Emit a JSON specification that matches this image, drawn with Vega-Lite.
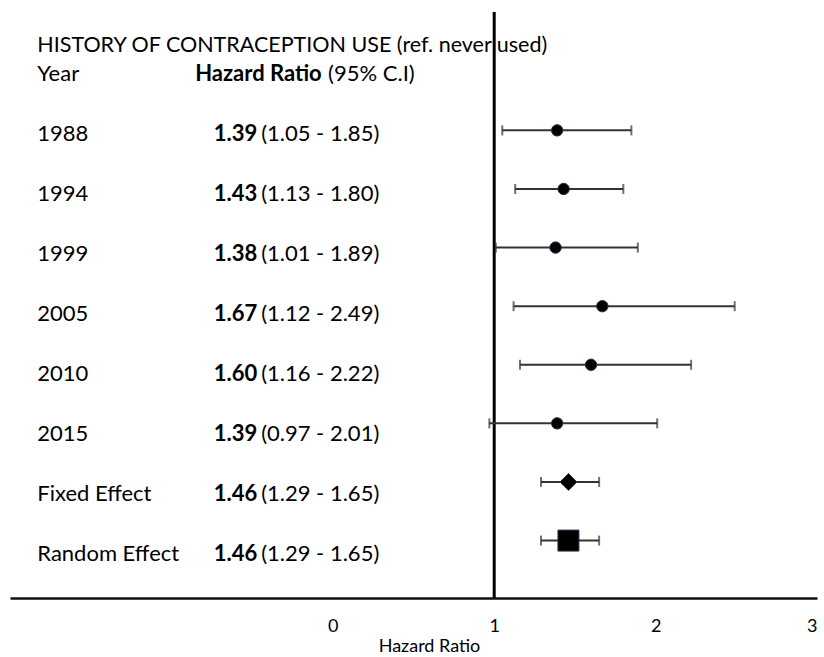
{
  "$schema": "https://vega.github.io/schema/vega-lite/v6.json",
  "width": 807,
  "height": 586,
  "padding": {"left": 10, "top": 10, "right": 5, "bottom": 0},
  "config": {
    "view": {"stroke": null},
    "font": "Lato",
    "text": {"font": "Lato", "fontSize": 22, "color": "#000", "baseline": "middle"},
    "axisX": {
      "ticks": false,
      "grid": false,
      "domainColor": "#111",
      "domainWidth": 2.5,
      "labelFont": "Lato",
      "labelFontSize": 18,
      "labelColor": "#000",
      "labelPadding": 19,
      "titleFont": "Lato",
      "titleFontSize": 18,
      "titleFontWeight": "normal",
      "titleColor": "#000",
      "titlePadding": 2,
      "titleX": 419
    }
  },
  "datasets": {
    "hr": [
      {"label": "1988", "kind": "study", "hr": 1.39, "lo": 1.05, "hi": 1.85},
      {"label": "1994", "kind": "study", "hr": 1.43, "lo": 1.13, "hi": 1.80},
      {"label": "1999", "kind": "study", "hr": 1.38, "lo": 1.01, "hi": 1.89},
      {"label": "2005", "kind": "study", "hr": 1.67, "lo": 1.12, "hi": 2.49},
      {"label": "2010", "kind": "study", "hr": 1.60, "lo": 1.16, "hi": 2.22},
      {"label": "2015", "kind": "study", "hr": 1.39, "lo": 0.97, "hi": 2.01},
      {"label": "Fixed Effect", "kind": "fixed", "hr": 1.46, "lo": 1.29, "hi": 1.65},
      {"label": "Random Effect", "kind": "random", "hr": 1.46, "lo": 1.29, "hi": 1.65}
    ]
  },
  "data": {"name": "hr"},
  "layer": [
    {
      "layer": [
        {
          "data": {"values": [{}]},
          "mark": {"type": "rule", "color": "#000", "strokeWidth": 3},
          "encoding": {
            "x": {"datum": 1, "type": "quantitative", "scale": {"domain": [-2, 3], "nice": false, "zero": false}, "axis": {"values": [0, 1, 2, 3], "format": "d"}, "title": "Hazard Ratio"}
          }
        },
        {
          "mark": {"type": "rule", "color": "#333", "strokeWidth": 2},
          "encoding": {
            "x": {"field": "lo", "type": "quantitative", "scale": {"domain": [-2, 3], "nice": false, "zero": false}, "axis": {"values": [0, 1, 2, 3], "format": "d"}, "title": "Hazard Ratio"},
            "x2": {"field": "hi"},
            "y": {"field": "label", "type": "ordinal", "sort": null, "axis": null,
                  "scale": {"type": "band", "domain": ["1988", "1994", "1999", "2005", "2010", "2015", "Fixed Effect", "Random Effect"], "paddingInner": 0, "paddingOuter": 1, "align": 0.76}}
          }
        },
        {
          "mark": {"type": "tick", "color": "#333", "thickness": 2, "size": 10, "orient": "vertical"},
          "encoding": {
            "x": {"field": "lo", "type": "quantitative", "scale": {"domain": [-2, 3], "nice": false, "zero": false}, "axis": {"values": [0, 1, 2, 3], "format": "d"}, "title": "Hazard Ratio"},
            "y": {"field": "label", "type": "ordinal", "sort": null, "axis": null}
          }
        },
        {
          "mark": {"type": "tick", "color": "#333", "thickness": 2, "size": 10, "orient": "vertical"},
          "encoding": {
            "x": {"field": "hi", "type": "quantitative", "scale": {"domain": [-2, 3], "nice": false, "zero": false}, "axis": {"values": [0, 1, 2, 3], "format": "d"}, "title": "Hazard Ratio"},
            "y": {"field": "label", "type": "ordinal", "sort": null, "axis": null}
          }
        },
        {
          "mark": {"type": "point", "filled": true, "opacity": 1, "color": "#000", "stroke": "#25304a", "strokeWidth": 1},
          "encoding": {
            "x": {"field": "hr", "type": "quantitative", "scale": {"domain": [-2, 3], "nice": false, "zero": false}, "axis": {"values": [0, 1, 2, 3], "format": "d"}, "title": "Hazard Ratio"},
            "y": {"field": "label", "type": "ordinal", "sort": null, "axis": null},
            "shape": {"field": "kind", "type": "nominal", "legend": null,
                      "scale": {"domain": ["study", "fixed", "random"], "range": ["circle", "diamond", "square"]}},
            "size": {"field": "kind", "type": "nominal", "legend": null,
                     "scale": {"domain": ["study", "fixed", "random"], "range": [130, 440, 350]}}
          }
        }
      ]
    },
    {
      "layer": [
        {
          "mark": {"type": "text", "align": "left"},
          "encoding": {
            "x": {"datum": -1.831, "type": "quantitative", "scale": {"domain": [-2, 3], "nice": false, "zero": false}, "axis": {"values": [0, 1, 2, 3], "format": "d"}, "title": "Hazard Ratio"},
            "y": {"field": "label", "type": "ordinal", "sort": null, "axis": null,
                  "scale": {"type": "point", "domain": ["Year", "1988", "1994", "1999", "2005", "2010", "2015", "Fixed Effect", "Random Effect"], "padding": 0.883, "align": 0.585}},
            "text": {"field": "label"}
          }
        },
        {
          "mark": {"type": "text", "align": "right", "fontWeight": "bold"},
          "encoding": {
            "x": {"datum": -0.468, "type": "quantitative"},
            "y": {"field": "label", "type": "ordinal", "sort": null, "axis": null},
            "text": {"field": "hr", "type": "quantitative", "format": ".2f"}
          }
        },
        {
          "transform": [
            {"calculate": "'(' + format(datum.lo, '.2f') + ' - ' + format(datum.hi, '.2f') + ')'", "as": "ci"}
          ],
          "mark": {"type": "text", "align": "left"},
          "encoding": {
            "x": {"datum": -0.444, "type": "quantitative"},
            "y": {"field": "label", "type": "ordinal", "sort": null, "axis": null},
            "text": {"field": "ci"}
          }
        },
        {
          "data": {"values": [{}]},
          "mark": {"type": "text", "align": "left", "dy": -28, "fontSize": 21.5},
          "encoding": {
            "x": {"datum": -1.831, "type": "quantitative"},
            "y": {"datum": "Year", "type": "ordinal", "axis": null},
            "text": {"value": "HISTORY OF CONTRACEPTION USE (ref. never used)"}
          }
        },
        {
          "data": {"values": [{}]},
          "mark": {"type": "text", "align": "left"},
          "encoding": {
            "x": {"datum": -1.831, "type": "quantitative"},
            "y": {"datum": "Year", "type": "ordinal", "axis": null},
            "text": {"value": "Year"}
          }
        },
        {
          "data": {"values": [{}]},
          "mark": {"type": "text", "align": "left", "fontWeight": "bold"},
          "encoding": {
            "x": {"datum": -0.853, "type": "quantitative"},
            "y": {"datum": "Year", "type": "ordinal", "axis": null},
            "text": {"value": "Hazard Ratio"}
          }
        },
        {
          "data": {"values": [{}]},
          "mark": {"type": "text", "align": "left"},
          "encoding": {
            "x": {"datum": -0.029, "type": "quantitative"},
            "y": {"datum": "Year", "type": "ordinal", "axis": null},
            "text": {"value": "(95% C.I)"}
          }
        }
      ]
    }
  ],
  "resolve": {"scale": {"y": "independent"}}
}
